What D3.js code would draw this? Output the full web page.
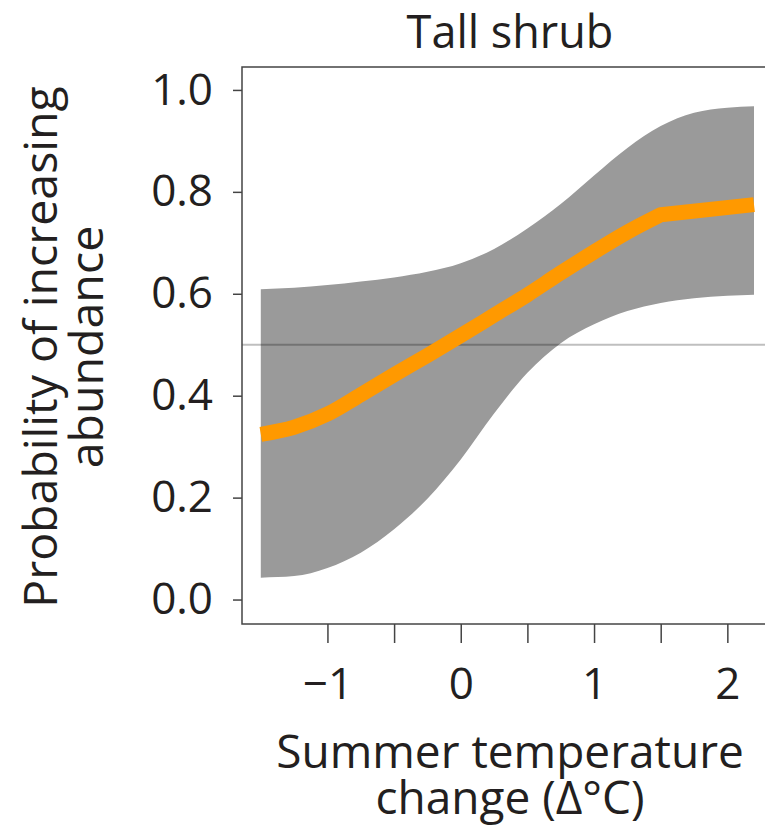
<!DOCTYPE html>
<html>
<head>
<meta charset="utf-8">
<script src="https://cdn.jsdelivr.net/npm/d3@7"></script>
<style>
  body { margin: 0; background: #fff; }
  text { font-family: "Open Sans", sans-serif; fill: #231f20; }
</style>
</head>
<body>
<div id="chart"></div>
<script>
// Data
const bandX = [-1.5, -1.25, -1, -0.75, -0.5, -0.25, 0, 0.25, 0.5, 0.75, 1, 1.25, 1.5, 1.75, 2, 2.2];
const bandUpper = [0.609, 0.612, 0.617, 0.624, 0.632, 0.643, 0.660, 0.688, 0.728, 0.776, 0.832, 0.886, 0.929, 0.955, 0.965, 0.968];
const bandLower = [0.043, 0.046, 0.062, 0.092, 0.138, 0.198, 0.275, 0.365, 0.445, 0.503, 0.540, 0.566, 0.582, 0.591, 0.596, 0.598];

const lineX = [-1.5, -1.25, -1, -0.75, -0.5, -0.25, 0, 0.25, 0.5, 0.75, 1, 1.25, 1.5, 2.2];
const lineY = [0.324, 0.338, 0.364, 0.402, 0.441, 0.479, 0.518, 0.558, 0.598, 0.641, 0.682, 0.721, 0.755, 0.775];

const refLine = 0.5;
const xTicks = [-1, -0.5, 0, 0.5, 1, 1.5, 2];
const yTicks = [0, 0.2, 0.4, 0.6, 0.8, 1.0];

const width = 765;
const height = 827;
const plot = { left: 242, top: 67, right: 774, bottom: 624 };

const svg = d3.select("#chart")
    .append("svg")
    .attr("width", width)
    .attr("height", height);

const x = d3.scaleLinear().domain([-1.641, 2.35]).range([plot.left, plot.right]);
const y = d3.scaleLinear().domain([-0.048, 1.045]).range([plot.bottom, plot.top]);

const band = bandX.map((d, i) => ({ x: d, lo: bandLower[i], hi: bandUpper[i] }));
const line = lineX.map((d, i) => ({ x: d, y: lineY[i] }));

// confidence band
svg.append("path")
    .datum(band)
    .attr("fill", "#9a9a9a")
    .attr("d", d3.area()
        .x(d => x(d.x))
        .y0(d => y(d.lo))
        .y1(d => y(d.hi))
        .curve(d3.curveMonotoneX));

// 0.5 reference line
svg.append("line")
    .attr("x1", plot.left).attr("x2", plot.right)
    .attr("y1", y(refLine)).attr("y2", y(refLine))
    .attr("stroke", "#000")
    .attr("stroke-opacity", 0.25)
    .attr("stroke-width", 2);

// fitted curve: smooth up to the kink at 1.5, straight after it
const smooth = line.filter(d => d.x <= 1.5);
const last = line[line.length - 1];
const linePath = d3.line().x(d => x(d.x)).y(d => y(d.y)).curve(d3.curveMonotoneX)(smooth)
    + `L${x(last.x)},${y(last.y)}`;

svg.append("path")
    .attr("fill", "none")
    .attr("stroke", "#ff9900")
    .attr("stroke-width", 15)
    .attr("stroke-linejoin", "round")
    .attr("d", linePath);

// frame
svg.append("rect")
    .attr("x", plot.left).attr("y", plot.top)
    .attr("width", plot.right - plot.left)
    .attr("height", plot.bottom - plot.top)
    .attr("fill", "none")
    .attr("stroke", "#444")
    .attr("stroke-width", 1.5);

// axes
const yAxis = svg.append("g")
    .attr("transform", `translate(${plot.left},0)`)
    .call(d3.axisLeft(y).tickValues(yTicks).tickFormat(d3.format(".1f")).tickSize(9).tickPadding(20));

const xAxis = svg.append("g")
    .attr("transform", `translate(0,${plot.bottom})`)
    .call(d3.axisBottom(x).tickValues(xTicks)
        .tickFormat(d => Number.isInteger(d) ? d3.format("d")(d) : "")
        .tickSize(19).tickPadding(25));

[yAxis, xAxis].forEach(g => {
    g.select(".domain").remove();
    g.selectAll(".tick line").attr("stroke", "#444").attr("stroke-width", 1.5);
    g.selectAll(".tick text")
        .attr("font-family", "Open Sans, sans-serif")
        .attr("font-size", 44)
        .attr("fill", "#231f20");
});

// title
svg.append("text")
    .attr("x", 510).attr("y", 48)
    .attr("text-anchor", "middle")
    .attr("font-size", 45)
    .text("Tall shrub");

// x axis title
const xt = svg.append("text")
    .attr("text-anchor", "middle")
    .attr("font-size", 46);
xt.append("tspan").attr("x", 510).attr("y", 768).text("Summer temperature");
xt.append("tspan").attr("x", 510).attr("y", 814).text("change (\u0394\u00B0C)");

// y axis title
const yt = svg.append("text")
    .attr("transform", "translate(0,347) rotate(-90)")
    .attr("text-anchor", "middle")
    .attr("font-size", 46.5);
yt.append("tspan").attr("x", 0).attr("y", 57).text("Probability of increasing");
yt.append("tspan").attr("x", 0).attr("y", 103).text("abundance");
</script>
</body>
</html>
